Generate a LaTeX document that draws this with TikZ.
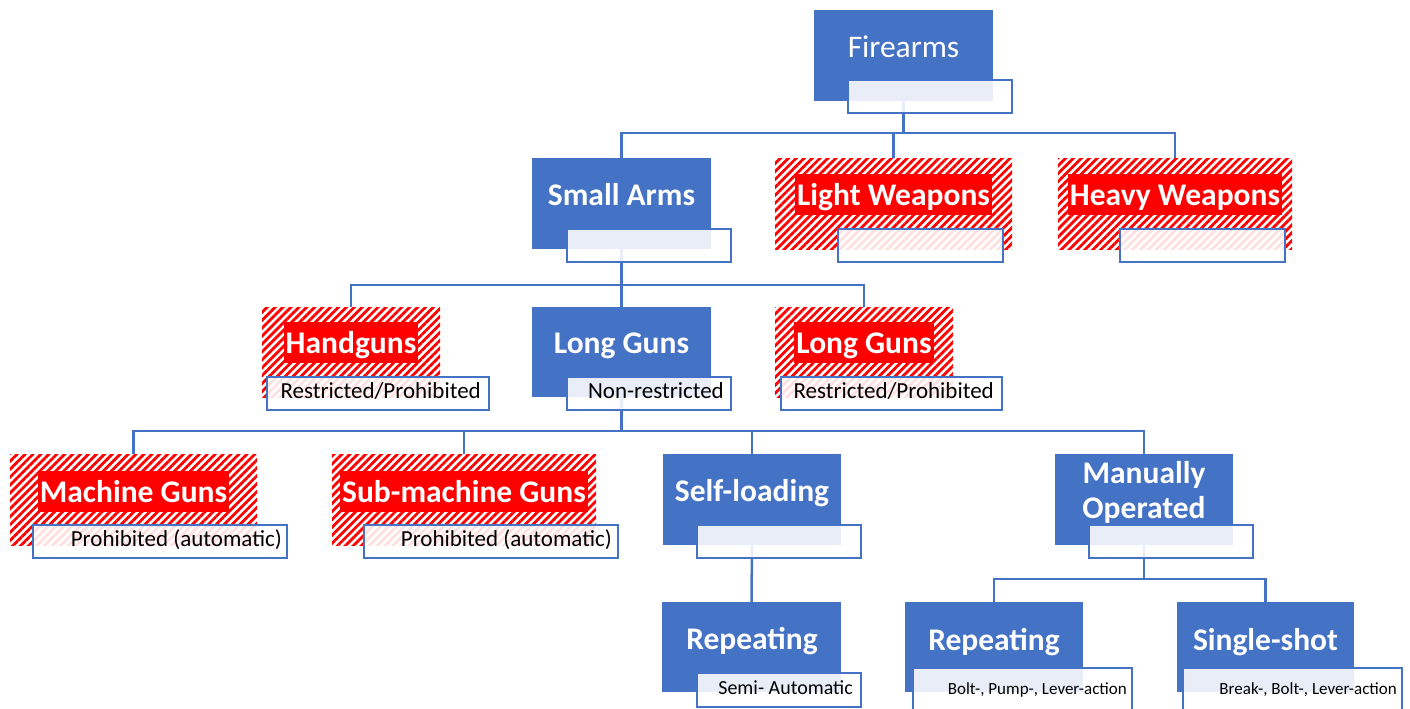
\documentclass[tikz,border=0pt]{standalone}
\usepackage{fontspec}
\setmainfont{Carlito}
\usetikzlibrary{patterns.meta}
\definecolor{blue1}{HTML}{4472C4}
\pgfdeclarelayer{bg}
\pgfsetlayers{bg,main}
\newcommand\mkbox[6]{\node[#1, minimum width={#5-#3}, minimum height={#6-#4}] (#2) at (#3,#4) {};}
\tikzset{
  mainbox/.style={fill=blue1, inner sep=0, outer sep=0, anchor=north west},
  hatchbox/.style={pattern={Lines[angle=45,distance=5.6pt,line width=2.8pt]}, pattern color=red, inner sep=0, outer sep=0, anchor=north west},
  subbox/.style={draw=blue1, line width=2pt, fill=white, fill opacity=0.88, inner sep=0, outer sep=0, anchor=north west},
  maintext/.style={text=white, font=\fontsize{31.5}{35}\selectfont\bfseries, anchor=base, inner sep=0},
  hltext/.style={fill=red, text=white, font=\fontsize{31.5}{35}\selectfont\bfseries, anchor=base, text height=23pt, text depth=1.5pt, inner ysep=8pt, inner xsep=2pt},
  subtext/.style={text=black, font=\fontsize{23}{26}\selectfont, anchor=base east, inner sep=0},
  smalltext/.style={text=black, font=\fontsize{17}{20}\selectfont, anchor=base east, inner sep=0},
  conn/.style={draw=blue1, line width=2.5pt},
}
\begin{document}
\begin{tikzpicture}[x=1pt,y=-1pt]
\useasboundingbox (0,0) rectangle (1410,709);
% row 1
\mkbox{mainbox}{fa}{814}{10}{993}{101}
\mkbox{subbox}{fas}{848}{80}{1012}{113}
\node[maintext, font=\fontsize{31.5}{35}\selectfont] (fal) at (903.5,57) {Firearms};
% row 2
\mkbox{mainbox}{sa}{532}{158}{711}{249}
\mkbox{subbox}{sas}{567}{229}{731}{262}
\node[maintext] (sal) at (621.5,205) {Small Arms};
\mkbox{hatchbox}{lw}{775}{158}{1012}{249}
\mkbox{subbox}{lws}{838}{229}{1003}{262}
\node[hltext] (lwl) at (893.5,205) {Light Weapons};
\mkbox{hatchbox}{hw}{1058}{158}{1292}{249}
\mkbox{subbox}{hws}{1120}{229}{1285}{262}
\node[hltext] (hwl) at (1175,205) {Heavy Weapons};
% row 3
\mkbox{hatchbox}{hg}{262}{307}{440}{397}
\mkbox{subbox}{hgs}{267}{377}{489}{410}
\node[hltext] (hgl) at (351,353) {Handguns};
\node[subtext] (hgt) at (481,398) {Restricted/Prohibited};
\mkbox{mainbox}{lg}{532}{307}{711}{397}
\mkbox{subbox}{lgs}{567}{377}{731}{410}
\node[maintext] (lgl) at (621.5,353) {Long Guns};
\node[subtext] (lgt) at (724,398) {Non-restricted};
\mkbox{hatchbox}{lgr}{775}{307}{953}{397}
\mkbox{subbox}{lgrs}{781}{377}{1002}{410}
\node[hltext] (lgrl) at (864,353) {Long Guns};
\node[subtext] (lgrt) at (994,398) {Restricted/Prohibited};
% row 4
\mkbox{hatchbox}{mg}{10}{454}{257}{545}
\mkbox{subbox}{mgs}{33}{525}{287}{558}
\node[hltext] (mgl) at (133.5,502) {Machine Guns};
\node[subtext] (mgt) at (282,546) {Prohibited (automatic)};
\mkbox{hatchbox}{smg}{332}{454}{596}{545}
\mkbox{subbox}{smgs}{364}{525}{618}{558}
\node[hltext] (smgl) at (464,502) {Sub-machine Guns};
\node[subtext] (smgt) at (612,546) {Prohibited (automatic)};
\mkbox{mainbox}{sl}{663}{454}{841}{545}
\mkbox{subbox}{sls}{697}{525}{861}{558}
\node[maintext] (sll) at (752,501) {Self-loading};
\mkbox{mainbox}{mo}{1055}{454}{1233}{545}
\mkbox{subbox}{mos}{1089}{525}{1253}{558}
\node[maintext, anchor=center, align=center] (mol) at (1144,492.5) {Manually\\Operated};
% row 5
\mkbox{mainbox}{ra}{662}{602}{841}{692}
\mkbox{subbox}{ras}{697}{673}{861}{707}
\node[maintext] (ral) at (752,649) {Repeating};
\node[smalltext, font=\fontsize{20}{24}\selectfont] (rat) at (853,694) {Semi- Automatic};
\mkbox{mainbox}{rb}{905}{602}{1083}{692}
\mkbox{subbox}{rbs}{913}{668}{1132}{716}
\node[maintext] (rbl) at (994,650) {Repeating};
\node[smalltext] (rbt) at (1127,694) {Bolt-, Pump-, Lever-action};
\mkbox{mainbox}{ss}{1177}{602}{1354}{692}
\mkbox{subbox}{sss}{1183}{668}{1402}{716}
\node[maintext] (ssl) at (1265.5,650) {Single-shot};
\node[smalltext] (sst) at (1397,694) {Break-, Bolt-, Lever-action};
% connectors
\coordinate (b1) at (0,133);
\coordinate (b2) at (0,285);
\coordinate (b3) at (0,431);
\coordinate (b4) at (0,579);
\begin{pgfonlayer}{bg}
\fill[white] (0,0) rectangle (1410,709);
\foreach \c in {sa,lw,hw} \draw[conn] (fa.south) -- (fa.south |- b1) -| (\c.north);
\foreach \c in {hg,lg,lgr} \draw[conn] (sa.south) -- (sa.south |- b2) -| (\c.north);
\foreach \c in {mg,smg,sl,mo} \draw[conn] (lg.south) -- (lg.south |- b3) -| (\c.north);
\foreach \c in {rb,ss} \draw[conn] (mo.south) -- (mo.south |- b4) -| (\c.north);
\draw[conn] (sl.south) -- (ra.north);
\end{pgfonlayer}
\end{tikzpicture}
\end{document}
